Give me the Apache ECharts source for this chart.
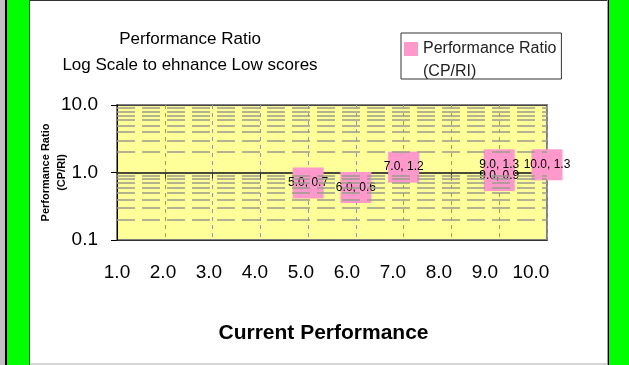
<!DOCTYPE html>
<html>
<head>
<meta charset="utf-8">
<script src="https://cdn.jsdelivr.net/npm/echarts@6/dist/echarts.min.js"></script>
<style>
  html, body { margin: 0; padding: 0; }
  body { width: 629px; height: 365px; position: relative; overflow: hidden; background: #ffffff; }
  .band { position: absolute; top: 0; height: 365px; }
  #chart { position: absolute; left: 0; top: 0; width: 629px; height: 365px; }
</style>
</head>
<body>
<div class="band" style="left:0;width:5px;background:#c0c0c0"></div>
<div class="band" style="left:5px;width:2px;background:#000"></div>
<div class="band" style="left:7px;width:22px;background:#00ff00"></div>
<div class="band" style="left:29px;width:1px;background:#2e4a2e"></div>
<div class="band" style="left:607px;width:1px;background:#a0a0a0"></div>
<div class="band" style="left:608px;width:1px;background:#000"></div>
<div class="band" style="left:609px;width:20px;background:#00ff00"></div>
<div style="position:absolute;left:30px;top:0;width:577px;height:1px;background:#333"></div>
<div style="position:absolute;left:30px;top:363px;width:577px;height:2px;background:#d4d4d4"></div>
<div id="chart"></div>
<script>
// Current performance (x) and performance ratio CP/RI (y) for each point
const currentPerformance = [5.0, 6.0, 7.0, 9.0, 9.0, 10.0];
const performanceRatio   = [0.7, 0.6, 1.2, 0.9, 1.3, 1.3];
// Minor log gridlines inside each decade
const minorGridValues = [0.2, 0.3, 0.4, 0.5, 0.6, 0.7, 0.8, 0.9, 2, 3, 4, 5, 6, 7, 8, 9];

const seriesName = 'Performance Ratio (CP/RI)';
const FONT = "'Liberation Sans', Arial, sans-serif";

const points = currentPerformance.map((x, i) => [x, performanceRatio[i]]);

const chart = echarts.init(document.getElementById('chart'), null, { renderer: 'canvas' });

chart.setOption({
  backgroundColor: 'transparent',
  animation: false,
  textStyle: { fontFamily: FONT },
  title: {
    text: 'Performance Ratio\nLog Scale to ehnance Low scores',
    left: 190,
    top: 26,
    padding: 0,
    textAlign: 'center',
    textVerticalAlign: 'top',
    textStyle: { fontFamily: FONT, fontSize: 17, fontWeight: 'normal', lineHeight: 26, color: '#000' }
  },
  legend: {
    data: [seriesName],
    left: 401,
    top: 33,
    orient: 'vertical',
    padding: [-18.5, 5, -4.5, 3],
    borderColor: '#333',
    borderWidth: 1,
    itemWidth: 14,
    itemHeight: 14,
    icon: 'rect',
    formatter: () => ' \nPerformance Ratio\n(CP/RI)',
    textStyle: { fontFamily: FONT, fontSize: 16, lineHeight: 23, color: '#222' }
  },
  grid: {
    left: 117, right: 82, top: 105, bottom: 125,
    show: true,
    backgroundColor: '#ffff99',
    borderColor: '#808080',
    borderWidth: 2
  },
  xAxis: [
    {
      // plotting axis with vertical dashed gridlines and bottom border
      type: 'value', min: 1, max: 10, interval: 1,
      position: 'bottom',
      axisLine: { show: true, lineStyle: { color: '#333', width: 1 } },
      axisTick: { show: false },
      axisLabel: { show: false },
      splitLine: { show: true, lineStyle: { color: '#9a9a8a', width: 1, type: [4, 4] } }
    },
    {
      // tick labels and axis title
      type: 'value', min: 1, max: 10.35, interval: 1,
      position: 'bottom',
      axisLine: { show: false },
      axisTick: { show: false },
      splitLine: { show: false },
      axisLabel: {
        show: true, margin: 23, fontSize: 19, color: '#000', fontFamily: FONT,
        showMaxLabel: false,
        formatter: v => v.toFixed(1)
      },
      name: 'Current Performance',
      nameLocation: 'middle',
      nameGap: 83,
      nameMoveOverlap: false,
      nameTextStyle: { fontFamily: FONT, fontSize: 21, fontWeight: 'bold', color: '#000', padding: [0, 17, 0, 0] }
    },
    {
      // axis line crossing at ratio 1.0
      type: 'value', min: 1, max: 10, interval: 1,
      position: 'bottom',
      offset: -67.5,
      axisLine: { show: true, lineStyle: { color: '#4a4a3a', width: 2 } },
      axisTick: { show: true, length: 6, lineStyle: { color: '#333', width: 1 } },
      axisLabel: { show: false },
      splitLine: { show: false }
    }
  ],
  yAxis: {
    type: 'log', logBase: 10, min: 0.1, max: 10,
    axisLine: { show: true, lineStyle: { color: '#000', width: 1 } },
    axisTick: { show: true, length: 6, lineStyle: { color: '#000' } },
    axisLabel: { margin: 19, fontSize: 19, color: '#000', fontFamily: FONT, formatter: v => v.toFixed(1) },
    splitLine: { show: true, lineStyle: { color: '#444', width: 1 } },
    name: 'Performance Ratio\n(CP/RI)',
    nameLocation: 'middle',
    nameGap: 47,
    nameMoveOverlap: false,
    nameRotate: 90,
    nameTextStyle: { fontFamily: FONT, fontSize: 11, fontWeight: 'bold', lineHeight: 16, color: '#000' }
  },
  series: [
    {
      name: 'minor grid',
      type: 'scatter',
      data: [],
      z: 1,
      silent: true,
      markLine: {
        silent: true,
        symbol: ['none', 'none'],
        label: { show: false },
        lineStyle: { color: '#9a9a8a', width: 1.5, type: [18, 7] },
        data: minorGridValues.map(v => ({ yAxis: v }))
      }
    },
    {
      name: seriesName,
      type: 'scatter',
      z: 3,
      symbol: 'rect',
      symbolSize: 31,
      itemStyle: { color: '#ff99cc', opacity: 1 },
      data: points,
      label: {
        show: true,
        position: 'inside',
        fontFamily: FONT,
        fontSize: 12,
        color: '#000',
        formatter: p => p.value[0].toFixed(1) + ', ' + p.value[1].toFixed(1)
      },
      labelLayout: { hideOverlap: false }
    }
  ]
});
</script>
</body>
</html>
